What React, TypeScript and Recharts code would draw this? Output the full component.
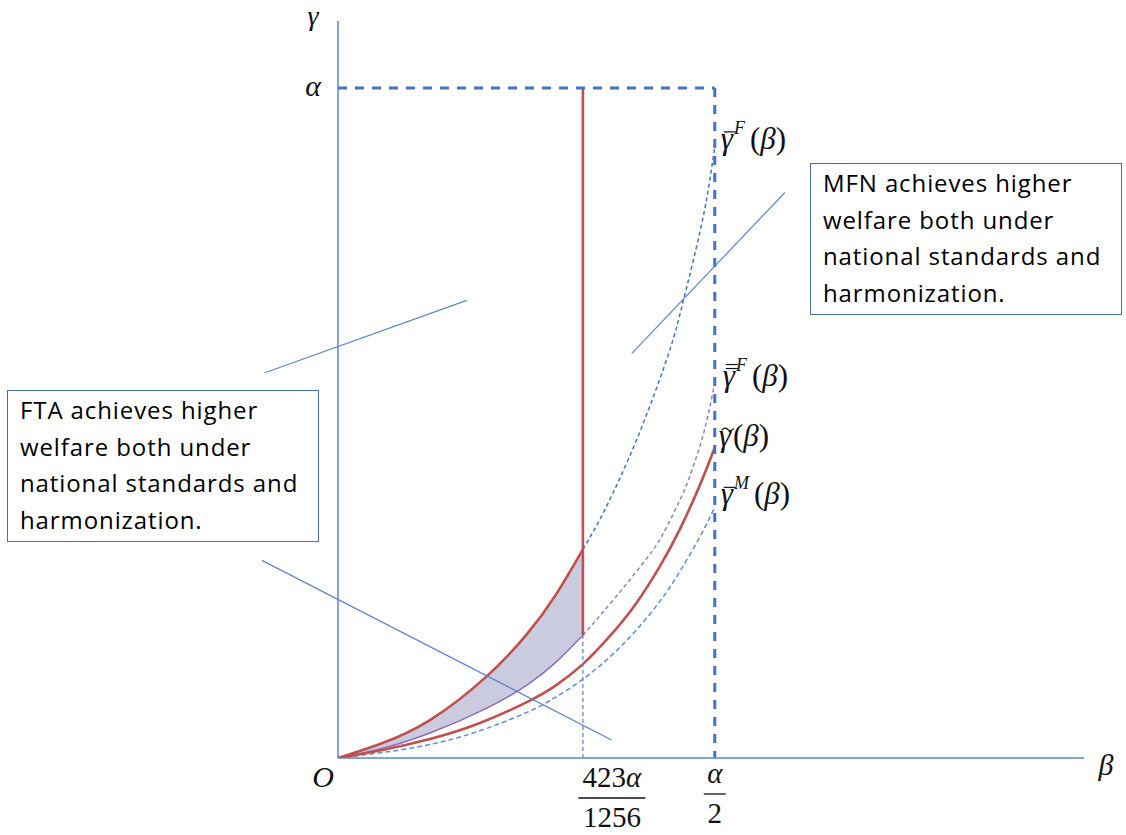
import React from 'react';
import { ComposedChart, Line, Area, XAxis, YAxis, ReferenceLine, ReferenceDot } from 'recharts';

// beta and gamma are measured in units of alpha
const ALPHA = 1;
const BETA_CUT = 0.325; // 423α/1256
const BETA_HALF = 0.5; // α/2

const betaTicks = [BETA_CUT, BETA_HALF];
const betaTickLabels = [
    { num: '423', den: '1256' },
    { num: '', den: '2' },
];
const gammaTicks = [ALPHA];

// γ̄F (hi) and γ̿F (lo) between O and 423α/1256, the shaded band
const shadedBand = [
    { b: 0, lo: 0, hi: 0 },
    { b: 0.0557, lo: 0.0134, hi: 0.0209 },
    { b: 0.122, lo: 0.0373, hi: 0.0566 },
    { b: 0.1976, lo: 0.0745, hi: 0.1222 },
    { b: 0.2507, lo: 0.1088, hi: 0.1848 },
    { b: 0.2878, lo: 0.1416, hi: 0.2414 },
    { b: 0.325, lo: 0.1833, hi: 0.3115 },
];

// γ̄F beyond the cut (dotted)
const gammaBarF = [
    { b: 0.325, g: 0.3115 },
    { b: 0.3448, g: 0.3502 },
    { b: 0.3647, g: 0.3949 },
    { b: 0.3846, g: 0.4441 },
    { b: 0.4045, g: 0.4978 },
    { b: 0.4244, g: 0.5574 },
    { b: 0.4443, g: 0.623 },
    { b: 0.4576, g: 0.6796 },
    { b: 0.4708, g: 0.7392 },
    { b: 0.4841, g: 0.8048 },
    { b: 0.492, g: 0.8525 },
    { b: 0.5, g: 0.9121 },
];

// γ̿F beyond the cut (dashed)
const gammaDblBarF = [
    { b: 0.325, g: 0.1833 },
    { b: 0.3674, g: 0.2385 },
    { b: 0.4098, g: 0.2981 },
    { b: 0.431, g: 0.3338 },
    { b: 0.4536, g: 0.3845 },
    { b: 0.4668, g: 0.4203 },
    { b: 0.4801, g: 0.465 },
    { b: 0.4907, g: 0.5097 },
    { b: 0.5, g: 0.5604 },
];

const gammaTilde = [
    { b: 0, g: 0 },
    { b: 0.0557, g: 0.0112 },
    { b: 0.122, g: 0.0283 },
    { b: 0.1883, g: 0.0522 },
    { b: 0.2507, g: 0.0835 },
    { b: 0.2878, g: 0.1073 },
    { b: 0.325, g: 0.1401 },
    { b: 0.3607, g: 0.1818 },
    { b: 0.3939, g: 0.228 },
    { b: 0.4271, g: 0.2861 },
    { b: 0.4536, g: 0.3413 },
    { b: 0.4801, g: 0.4069 },
    { b: 0.5, g: 0.4635 },
];

const gammaBarM = [
    { b: 0, g: 0 },
    { b: 0.0557, g: 0.0077 },
    { b: 0.122, g: 0.0201 },
    { b: 0.1883, g: 0.0407 },
    { b: 0.2507, g: 0.0681 },
    { b: 0.2878, g: 0.09 },
    { b: 0.325, g: 0.1176 },
    { b: 0.3607, g: 0.1508 },
    { b: 0.3939, g: 0.1885 },
    { b: 0.4271, g: 0.2338 },
    { b: 0.4536, g: 0.2783 },
    { b: 0.4801, g: 0.3298 },
    { b: 0.5, g: 0.3741 },
];

// thin pointer lines from the text boxes
const pointers = [
    [{ x: 0.39, y: 0.604 }, { x: 0.593, y: 0.844 }],
    [{ x: -0.097, y: 0.575 }, { x: 0.171, y: 0.683 }],
    [{ x: -0.101, y: 0.295 }, { x: 0.363, y: 0.027 }],
];

const mfnText = ['MFN achieves higher', 'welfare both under', 'national standards and', 'harmonization.'];
const ftaText = ['FTA achieves higher', 'welfare both under', 'national standards and', 'harmonization.'];

const MATH = '"Liberation Serif", "DejaVu Serif", serif';
const RED = '#C0504D';
const BLUE = '#4472C4';
const AXIS = '#5B86C8';
const PURPLE = '#9080C0';

const FracTick = (props: any) => {
    const { x, y, index } = props;
    const lab = betaTickLabels[index] || { num: '', den: '' };
    const cx = index === 0 ? x + 29 : x;
    const barW = index === 0 ? 67 : 22;
    const off = index === 0 ? 4 : 0;
    return (
        <g fontFamily={MATH} fill="#111">
            <text x={cx} y={y + off + 17} textAnchor="middle" fontSize={29}>
                {lab.num}
                <tspan fontStyle="italic">α</tspan>
            </text>
            <line x1={cx - barW / 2} x2={cx + barW / 2} y1={y + off + 28} y2={y + off + 28} stroke="#111" strokeWidth={1.3} />
            <text x={cx} y={y + off + 57} textAnchor="middle" fontSize={29}>
                {lab.den}
            </text>
        </g>
    );
};

const AlphaTick = (props: any) => {
    const { x, y } = props;
    return (
        <text x={x - 17} y={y + 8} textAnchor="middle" fontFamily={MATH} fontStyle="italic" fontSize={30} fill="#111">
            α
        </text>
    );
};

const axisLetter = (ch: string, dx: number, dy: number, size = 30) => (p: any) => (
    <text x={p.cx + dx} y={p.cy + dy} textAnchor="middle" fontFamily={MATH} fontStyle="italic" fontSize={size} fill="#111">
        {ch}
    </text>
);

// γ with an accent drawn above it, optional superscript, then (β)
const curveLabel = (mark: 'bar' | 'dbar' | 'tilde', sup: string, dx: number, dy: number) => (p: any) => {
    const tx = p.cx + dx;
    const ty = p.cy + dy;
    return (
        <g>
            <text x={tx} y={ty} fontFamily={MATH} fontSize={31} fill="#111">
                <tspan fontStyle="italic">γ</tspan>
                {sup ? (
                    <tspan fontStyle="italic" fontSize={18} dy={-15} dx={1}>
                        {sup}
                    </tspan>
                ) : null}
                <tspan dy={sup ? 15 : 0} dx={sup ? 5 : 2}>(</tspan>
                <tspan fontStyle="italic">β</tspan>
                <tspan>)</tspan>
            </text>
            {mark === 'tilde' ? (
                <path
                    d={`M${tx + 3},${ty - 16} q3,-4 6,-1 t6,-1`}
                    fill="none"
                    stroke="#111"
                    strokeWidth={1.2}
                />
            ) : (
                <line x1={tx + 3} x2={tx + 15} y1={ty - 17} y2={ty - 17} stroke="#111" strokeWidth={1.2} />
            )}
            {mark === 'dbar' ? (
                <line x1={tx + 3} x2={tx + 15} y1={ty - 21} y2={ty - 21} stroke="#111" strokeWidth={1.2} />
            ) : null}
        </g>
    );
};

const boxStyle = (left: number, top: number): React.CSSProperties => ({
    position: 'absolute',
    left,
    top,
    width: 312,
    height: 152,
    boxSizing: 'border-box',
    border: '1.3px solid #4A6EA8',
    padding: '1px 0 0 12px',
    fontFamily: '"Open Sans", sans-serif',
    fontSize: 24,
    letterSpacing: 0.9,
    lineHeight: '36.5px',
    color: '#000',
    background: '#fff',
    whiteSpace: 'nowrap',
});

const App: React.FC = () => {
    const lastBand = shadedBand[shadedBand.length - 1];
    return (
        <div style={{ position: 'absolute', left: 0, top: 0, width: 1126, height: 835 }}>
            <ComposedChart width={1126} height={835} margin={{ top: 21, right: 42, left: 0, bottom: 0 }}>
                <XAxis
                    type="number"
                    dataKey="b"
                    domain={[0, 0.99]}
                    allowDataOverflow
                    ticks={betaTicks}
                    height={77}
                    tickLine={false}
                    axisLine={{ stroke: AXIS, strokeWidth: 1.5 }}
                    tick={<FracTick />}
                    interval={0}
                />
                <YAxis
                    type="number"
                    domain={[0, 1.1]}
                    allowDataOverflow
                    ticks={gammaTicks}
                    width={338}
                    tickLine={false}
                    axisLine={{ stroke: AXIS, strokeWidth: 1.5 }}
                    tick={<AlphaTick />}
                />
                <Area
                    data={shadedBand}
                    dataKey={(d: any) => [d.lo, d.hi]}
                    type="natural"
                    stroke="none"
                    fill="#CBCBE0"
                    fillOpacity={1}
                    isAnimationActive={false}
                />
                <Line data={gammaBarF} dataKey="g" type="natural" stroke={BLUE} strokeWidth={1.5} strokeDasharray="4 3" dot={false} isAnimationActive={false} />
                <Line data={gammaDblBarF} dataKey="g" type="natural" stroke={PURPLE} strokeWidth={1.5} strokeDasharray="4 3" dot={false} isAnimationActive={false} />
                <Line data={gammaBarM} dataKey="g" type="natural" stroke="#5B8FD6" strokeWidth={1.5} strokeDasharray="5 3" dot={false} isAnimationActive={false} />
                <Line data={shadedBand} dataKey="lo" type="natural" stroke="#8C6CC0" strokeWidth={1.5} dot={false} isAnimationActive={false} />
                <Line data={gammaTilde} dataKey="g" type="natural" stroke={RED} strokeWidth={2.6} dot={false} isAnimationActive={false} />
                <Line data={shadedBand} dataKey="hi" type="natural" stroke={RED} strokeWidth={2.6} dot={false} isAnimationActive={false} />

                <ReferenceLine
                    segment={[{ x: BETA_CUT, y: 0 }, { x: BETA_CUT, y: lastBand.lo }]}
                    stroke="#5B8FD6"
                    strokeWidth={1.3}
                    strokeDasharray="4 3"
                />
                <ReferenceLine
                    segment={[{ x: BETA_CUT, y: lastBand.lo }, { x: BETA_CUT, y: ALPHA }]}
                    stroke={RED}
                    strokeWidth={2.6}
                />
                <ReferenceLine
                    segment={[{ x: 0, y: ALPHA }, { x: BETA_HALF, y: ALPHA }]}
                    stroke={BLUE}
                    strokeWidth={3}
                    strokeDasharray="9 8"
                />
                <ReferenceLine
                    segment={[{ x: BETA_HALF, y: ALPHA }, { x: BETA_HALF, y: 0 }]}
                    stroke={BLUE}
                    strokeWidth={3}
                    strokeDasharray="9 8"
                />
                {pointers.map((seg, i) => (
                    <ReferenceLine key={i} segment={seg} stroke="#5B86C8" strokeWidth={1.2} ifOverflow="visible" />
                ))}

                <ReferenceDot x={0} y={1.1} r={0} ifOverflow="visible" shape={axisLetter('γ', -25, 4, 28)} />
                <ReferenceDot x={0} y={0} r={0} ifOverflow="visible" shape={axisLetter('O', -15, 29)} />
                <ReferenceDot x={0.99} y={0} r={0} ifOverflow="visible" shape={axisLetter('β', 22, 17)} />

                <ReferenceDot x={BETA_HALF} y={gammaBarF[gammaBarF.length - 1].g} r={0} ifOverflow="visible" shape={curveLabel('bar', 'F', 6, 2)} />
                <ReferenceDot x={BETA_HALF} y={gammaDblBarF[gammaDblBarF.length - 1].g} r={0} ifOverflow="visible" shape={curveLabel('dbar', 'F', 8, 3)} />
                <ReferenceDot x={BETA_HALF} y={gammaTilde[gammaTilde.length - 1].g} r={0} ifOverflow="visible" shape={curveLabel('tilde', '', 4, -1)} />
                <ReferenceDot x={BETA_HALF} y={gammaBarM[gammaBarM.length - 1].g} r={0} ifOverflow="visible" shape={curveLabel('bar', 'M', 6, -3)} />
            </ComposedChart>

            <div style={boxStyle(810, 163)}>
                {mfnText.map((t) => (
                    <div key={t}>{t}</div>
                ))}
            </div>
            <div style={boxStyle(7, 390)}>
                {ftaText.map((t) => (
                    <div key={t}>{t}</div>
                ))}
            </div>
        </div>
    );
};

export default App;
